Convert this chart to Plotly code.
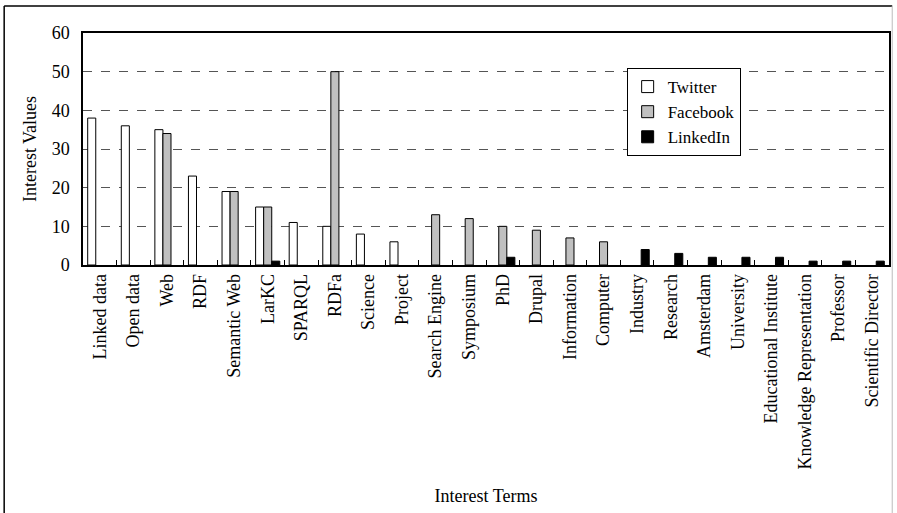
import plotly.graph_objects as go

terms = ["Linked data", "Open data", "Web", "RDF", "Semantic Web", "LarKC", "SPARQL",
         "RDFa", "Science", "Project", "Search Engine", "Symposium", "PhD", "Drupal",
         "Information", "Computer", "Industry", "Research", "Amsterdam", "University",
         "Educational Institute", "Knowledge Representation", "Professor", "Scientific Director"]
twitter = [38, 36, 35, 23, 19, 15, 11, 10, 8, 6, 0, 0, 0, 0, 0, 0, 0, 0, 0, 0, 0, 0, 0, 0]
facebook = [0, 0, 34, 0, 19, 15, 0, 50, 0, 0, 13, 12, 10, 9, 7, 6, 0, 0, 0, 0, 0, 0, 0, 0]
linkedin = [0, 0, 0, 0, 0, 1, 0, 0, 0, 0, 0, 0, 2, 0, 0, 0, 4, 3, 2, 2, 2, 1, 1, 1]
y_ticks = [0, 10, 20, 30, 40, 50, 60]

FONT = "Liberation Serif, Times New Roman, serif"
FS = 18

fig = go.Figure()
for name, vals, color in [("Twitter", twitter, "white"),
                          ("Facebook", facebook, "#c0c0c0"),
                          ("LinkedIn", linkedin, "black")]:
    fig.add_trace(go.Bar(x=terms, y=[v if v else None for v in vals], name=name,
                         legendgroup=name,
                         marker=dict(color=color, line=dict(color="black", width=1))))

fig.update_layout(
    width=897, height=513,
    margin=dict(l=83, r=6, t=33, b=248),
    paper_bgcolor="white", plot_bgcolor="white",
    font=dict(family=FONT, size=FS, color="black"),
    barmode="group", bargap=0.28, bargroupgap=0,
    showlegend=True,
    legend=dict(x=0.6745, y=0.849, xanchor="left", yanchor="top",
                bgcolor="white", bordercolor="black", borderwidth=1,
                font=dict(family=FONT, size=17), tracegroupgap=0,
                itemwidth=30),
    xaxis=dict(type="category", tickangle=-90, ticks="inside", tickson="boundaries",
               ticklen=5, tickcolor="black", showline=True, linecolor="black",
               linewidth=1.5, mirror=True, showgrid=False,
               tickfont=dict(family=FONT, size=FS),
               title=dict(text="Interest Terms", font=dict(family=FONT, size=FS), standoff=21)),
    yaxis=dict(range=[0, 60], tickvals=y_ticks, ticks="", showline=True,
               linecolor="black", linewidth=1.5, mirror=True,
               showgrid=True, gridcolor="#555555", griddash="dash", gridwidth=1,
               zeroline=False, ticklabelstandoff=8,
               tickfont=dict(family=FONT, size=FS),
               title=dict(text="Interest Values", font=dict(family=FONT, size=FS), standoff=10)),
)

# outer frame of the figure
fig.add_shape(type="line", xref="paper", yref="paper", x0=-0.0978, x1=-0.0978, y0=1.1164, y1=-1.2,
              line=dict(color="black", width=1.5))
fig.add_shape(type="line", xref="paper", yref="paper", x0=-0.0978, x1=1.0040, y0=1.1164, y1=1.1164,
              line=dict(color="black", width=1.5))
fig.add_shape(type="line", xref="paper", yref="paper", x0=1.0040, x1=1.0040, y0=1.1164, y1=-1.2,
              line=dict(color="#bbbbbb", width=1))

fig.write_html("out.html")
